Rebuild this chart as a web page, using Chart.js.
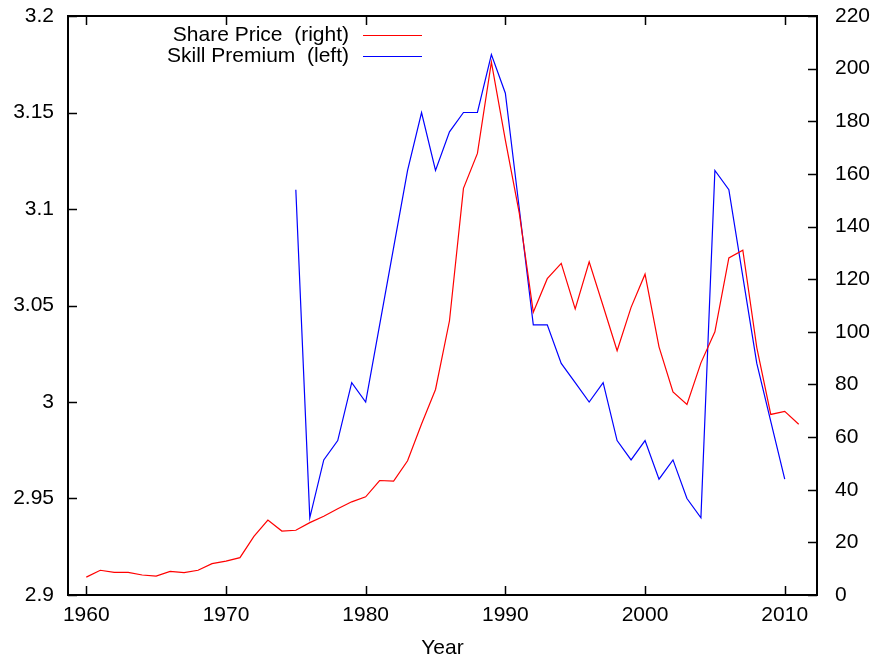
<!DOCTYPE html>
<html>
<head>
<meta charset="utf-8">
<script src="https://cdn.jsdelivr.net/npm/chart.js@4/dist/chart.umd.min.js"></script>
<style>
  body { margin: 0; background: #fff; }
  #wrap { width: 877px; height: 663px; }
</style>
</head>
<body>
<div id="wrap"><canvas id="grafica" width="877" height="663"></canvas></div>
<script>
"use strict";

// años
let yearsPrice = [];
for (let y = 1960; y <= 2011; y++) yearsPrice.push(y);
let yearsSkill = [];
for (let y = 1975; y <= 2010; y++) yearsSkill.push(y);

// Share Price (eje derecho)
let sharePrice = [6.8, 9.4, 8.6, 8.6, 7.6, 7.2, 9.0, 8.5, 9.4, 11.9,
  12.9, 14.2, 22.3, 28.5, 24.3, 24.6, 27.5, 29.9, 32.8, 35.4,
  37.3, 43.5, 43.3, 51.0, 65.0, 78.1, 104.2, 154.5, 167.8, 202.5,
  172.8, 145.0, 107.4, 120.2, 126.0, 108.7, 126.6, 109.8, 92.8, 109.3,
  121.9, 94.3, 77.2, 72.4, 88.2, 100.0, 128.1, 131.0, 94.0, 68.6,
  69.8, 64.9];

// Skill Premium (eje izquierdo)
let skillPremium = [3.11, 2.94, 2.97, 2.98, 3.01, 3.00, 3.04, 3.08, 3.12, 3.15,
  3.12, 3.14, 3.15, 3.15, 3.18, 3.16, 3.10, 3.04, 3.04, 3.02,
  3.01, 3.00, 3.01, 2.98, 2.97, 2.98, 2.96, 2.97, 2.95, 2.94,
  3.12, 3.11, 3.065, 3.02, 2.99, 2.96];

// ticks
let xTicks = [1960, 1970, 1980, 1990, 2000, 2010];
let leftTicks = [2.9, 2.95, 3, 3.05, 3.1, 3.15, 3.2];
let leftTickLabels = ["2.9", "2.95", "3", "3.05", "3.1", "3.15", "3.2"];
let rightTicks = [0, 20, 40, 60, 80, 100, 120, 140, 160, 180, 200, 220];

const FONT = "'Liberation Sans', Arial, sans-serif";
const TAM = 21;

const puntosPrice = yearsPrice.map((y, i) => ({ x: y, y: sharePrice[i] }));
const puntosSkill = yearsSkill.map((y, i) => ({ x: y, y: skillPremium[i] }));

// quitar el relleno automatico que chart.js pone por las etiquetas
function sinRelleno(s) {
  s.paddingTop = 0; s.paddingBottom = 0;
  s.paddingLeft = 0; s.paddingRight = 0;
}

// marco, ticks hacia adentro y leyenda estilo gnuplot
const marcoGnuplot = {
  id: "marcoGnuplot",
  afterDraw(chart) {
    const ctx = chart.ctx;
    const a = chart.chartArea;
    const sx = chart.scales.x, sl = chart.scales.yL, sr = chart.scales.yR;
    const tl = 9;
    ctx.save();
    ctx.strokeStyle = "#000";
    ctx.lineWidth = 1.5;
    ctx.beginPath();
    xTicks.forEach(v => {
      const px = Math.round(sx.getPixelForValue(v)) + 0.5;
      ctx.moveTo(px, a.bottom); ctx.lineTo(px, a.bottom - tl);
      ctx.moveTo(px, a.top); ctx.lineTo(px, a.top + tl);
    });
    leftTicks.forEach(v => {
      const py = Math.round(sl.getPixelForValue(v)) + 0.5;
      ctx.moveTo(a.left, py); ctx.lineTo(a.left + tl, py);
    });
    rightTicks.forEach(v => {
      const py = Math.round(sr.getPixelForValue(v)) + 0.5;
      ctx.moveTo(a.right, py); ctx.lineTo(a.right - tl, py);
    });
    ctx.stroke();
    ctx.lineWidth = 2;
    ctx.strokeRect(a.left, a.top, a.right - a.left, a.bottom - a.top);

    // leyenda
    ctx.font = TAM + "px " + FONT;
    ctx.textAlign = "right";
    ctx.textBaseline = "middle";
    ctx.fillStyle = "#000";
    const filas = [
      { txt: "Share Price  (right)", color: "#ff0000", y: 35 },
      { txt: "Skill Premium  (left)", color: "#0000ff", y: 56 }
    ];
    filas.forEach(f => {
      ctx.fillText(f.txt, 349, f.y);
      ctx.strokeStyle = f.color;
      ctx.lineWidth = 1;
      ctx.beginPath();
      ctx.moveTo(363, f.y + 0.5);
      ctx.lineTo(422, f.y + 0.5);
      ctx.stroke();
    });
    ctx.restore();
  }
};

const ctx = document.getElementById("grafica").getContext("2d");
new Chart(ctx, {
  type: "line",
  data: {
    datasets: [
      {
        label: "Share Price  (right)",
        data: puntosPrice,
        yAxisID: "yR",
        borderColor: "#ff0000",
        borderWidth: 1.2,
        pointRadius: 0,
        fill: false,
        tension: 0
      },
      {
        label: "Skill Premium  (left)",
        data: puntosSkill,
        yAxisID: "yL",
        borderColor: "#0000ff",
        borderWidth: 1.2,
        pointRadius: 0,
        fill: false,
        tension: 0
      }
    ]
  },
  options: {
    responsive: false,
    animation: false,
    layout: { padding: { top: 16, left: 0, right: 0, bottom: 0 } },
    plugins: { legend: { display: false }, tooltip: { enabled: false } },
    scales: {
      x: {
        type: "linear",
        min: 1958.69,
        max: 2012.31,
        grid: { display: false, drawTicks: false },
        border: { display: false },
        afterBuildTicks: s => { s.ticks = xTicks.map(v => ({ value: v })); },
        afterFit: s => { s.height = 68; sinRelleno(s); },
        ticks: {
          color: "#000",
          font: { family: FONT, size: TAM },
          padding: 8,
          maxRotation: 0,
          autoSkip: false,
          callback: v => String(v)
        },
        title: {
          display: true,
          text: "Year",
          color: "#000",
          font: { family: FONT, size: TAM },
          padding: { top: 0, bottom: 2 }
        }
      },
      yL: {
        type: "linear",
        position: "left",
        min: 2.9,
        max: 3.2,
        grid: { display: false, drawTicks: false },
        border: { display: false },
        afterBuildTicks: s => { s.ticks = leftTicks.map(v => ({ value: v })); },
        afterFit: s => { s.width = 68; sinRelleno(s); },
        ticks: {
          color: "#000",
          font: { family: FONT, size: TAM },
          padding: 14,
          autoSkip: false,
          callback: (v, i) => leftTickLabels[i]
        }
      },
      yR: {
        type: "linear",
        position: "right",
        min: 0,
        max: 220,
        grid: { display: false, drawTicks: false },
        border: { display: false },
        afterBuildTicks: s => { s.ticks = rightTicks.map(v => ({ value: v })); },
        afterFit: s => { s.width = 60; sinRelleno(s); },
        ticks: {
          color: "#000",
          font: { family: FONT, size: TAM },
          padding: 18,
          autoSkip: false,
          callback: v => String(v)
        }
      }
    }
  },
  plugins: [marcoGnuplot]
});
</script>
</body>
</html>
